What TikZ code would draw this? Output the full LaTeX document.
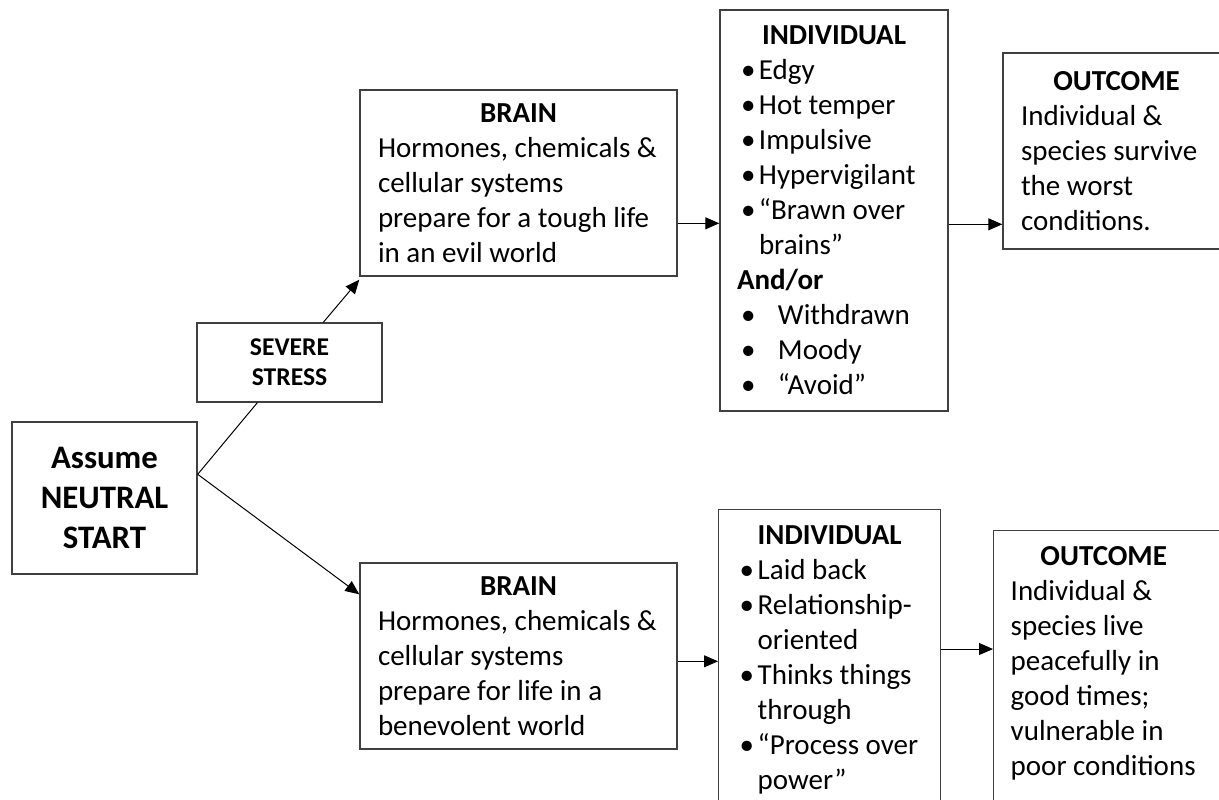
\documentclass[tikz,border=0pt]{standalone}
\usepackage{fontspec}
\setmainfont{Carlito}
\usetikzlibrary{arrows.meta,calc}
\newcommand{\bl}{\makebox[11pt][l]{\hspace{2pt}•}}
\newcommand{\blb}{\makebox[20.5pt][l]{\hspace{2pt}•}}
\newcommand{\hang}{\hspace*{11pt}}
\tikzset{
  box/.style={draw=black!75, line width=0.7pt, fill=white, inner ysep=2pt,
    font=\fontsize{14.5pt}{17.5pt}\selectfont, align=flush left},
  bigbox/.style={draw=black!75, line width=0.7pt, fill=white, align=center,
    font=\fontsize{16.4pt}{19.8pt}\selectfont\bfseries,
    minimum width=92.5pt, minimum height=76pt, inner sep=2pt},
  smallbox/.style={draw=black!75, line width=0.7pt, fill=white, align=center,
    font=\fontsize{12.8pt}{15pt}\selectfont\bfseries,
    minimum width=92.5pt, minimum height=39.5pt, inner sep=2pt},
  arr/.style={line width=0.5pt, -{Triangle[length=7pt,width=6pt]}},
  conn/.style={line width=0.5pt}
}
\begin{document}
\begin{tikzpicture}[x=0.5pt,y=-0.5pt]
\useasboundingbox (0,0) rectangle (1219,799);
\clip (0,0) rectangle (1219,799);

\node[bigbox] (neutral) at (104.5,498) {Assume\\NEUTRAL\\START};
\node[smallbox] (stress) at (289.5,362.5) {SEVERE\\STRESS};

\node[box, text width=140.5pt, inner xsep=9pt, minimum height=93pt] (brain1) at (518.5,183)
  {\makebox[140.5pt]{\textbf{BRAIN}}\\\mbox{Hormones, chemicals \&}\\\mbox{cellular systems}\\\mbox{prepare for a tough life}\\\mbox{in an evil world}};
\node[box, text width=140.5pt, inner xsep=9pt, minimum height=93pt] (brain2) at (518.5,656)
  {\makebox[140.5pt]{\textbf{BRAIN}}\\\mbox{Hormones, chemicals \&}\\\mbox{cellular systems}\\\mbox{prepare for life in a}\\\mbox{benevolent world}};

\node[box, text width=97pt, inner xsep=8.5pt, minimum height=200.5pt] (ind1) at (834,210.5)
  {\makebox[97pt]{\textbf{INDIVIDUAL}}\\
   \bl Edgy\\
   \bl Hot temper\\
   \bl Impulsive\\
   \bl Hypervigilant\\
   \bl “Brawn over\\
   \hang brains”\\
   \textbf{And/or}\\
   \blb Withdrawn\\
   \blb Moody\\
   \blb “Avoid”};

\node[box, text width=94pt, inner xsep=8.5pt, inner ysep=7.85pt, anchor=north west] (ind2) at (718,509)
  {\makebox[94pt]{\textbf{INDIVIDUAL}}\\
   \bl Laid back\\
   \bl \mbox{Relationship-}\\
   \hang oriented\\
   \bl \mbox{Thinks things}\\
   \hang through\\
   \bl \mbox{“Process over}\\
   \hang power”\\
   \mbox{}};

\node[box, text width=95.5pt, inner xsep=9pt, minimum height=98pt] (out1) at (1116.5,151)
  {\makebox[95.5pt]{\textbf{OUTCOME}}\\Individual \&\\\mbox{species survive}\\the worst\\conditions.};

\node[box, text width=101.5pt, inner xsep=8.5pt, inner ysep=8pt, anchor=north west] (out2) at (993,530)
  {\makebox[93pt]{\textbf{OUTCOME}}\\Individual \&\\species live\\peacefully in\\good times;\\vulnerable in\\\mbox{poor conditions}\\\mbox{}};

\coordinate (nA) at ($(neutral.north east)+(0,53)$);
\coordinate (sB) at ($(stress.south west)+(61,0)$);
\coordinate (sT) at ($(stress.north west)+(127,0)$);
\coordinate (b1L) at ($(brain1.south west)+(0,3)$);
\coordinate (b2L) at ($(brain2.north west)+(0,32)$);
\coordinate (b1R) at ($(brain1.north east)+(0,134)$);
\coordinate (i1R) at ($(ind1.north east)+(0,215)$);
\coordinate (b2R) at ($(brain2.north east)+(0,99)$);
\coordinate (i2R) at ($(ind2.north east)+(0,140)$);

\draw[conn] (nA) -- (sB);
\draw[arr] (sT) -- (b1L);
\draw[arr] (nA) -- (b2L);
\draw[arr] (b1R) -- (b1R -| ind1.west);
\draw[arr] (i1R) -- (i1R -| out1.west);
\draw[arr] (b2R) -- (b2R -| ind2.west);
\draw[arr] (i2R) -- (i2R -| out2.west);
\end{tikzpicture}
\end{document}
